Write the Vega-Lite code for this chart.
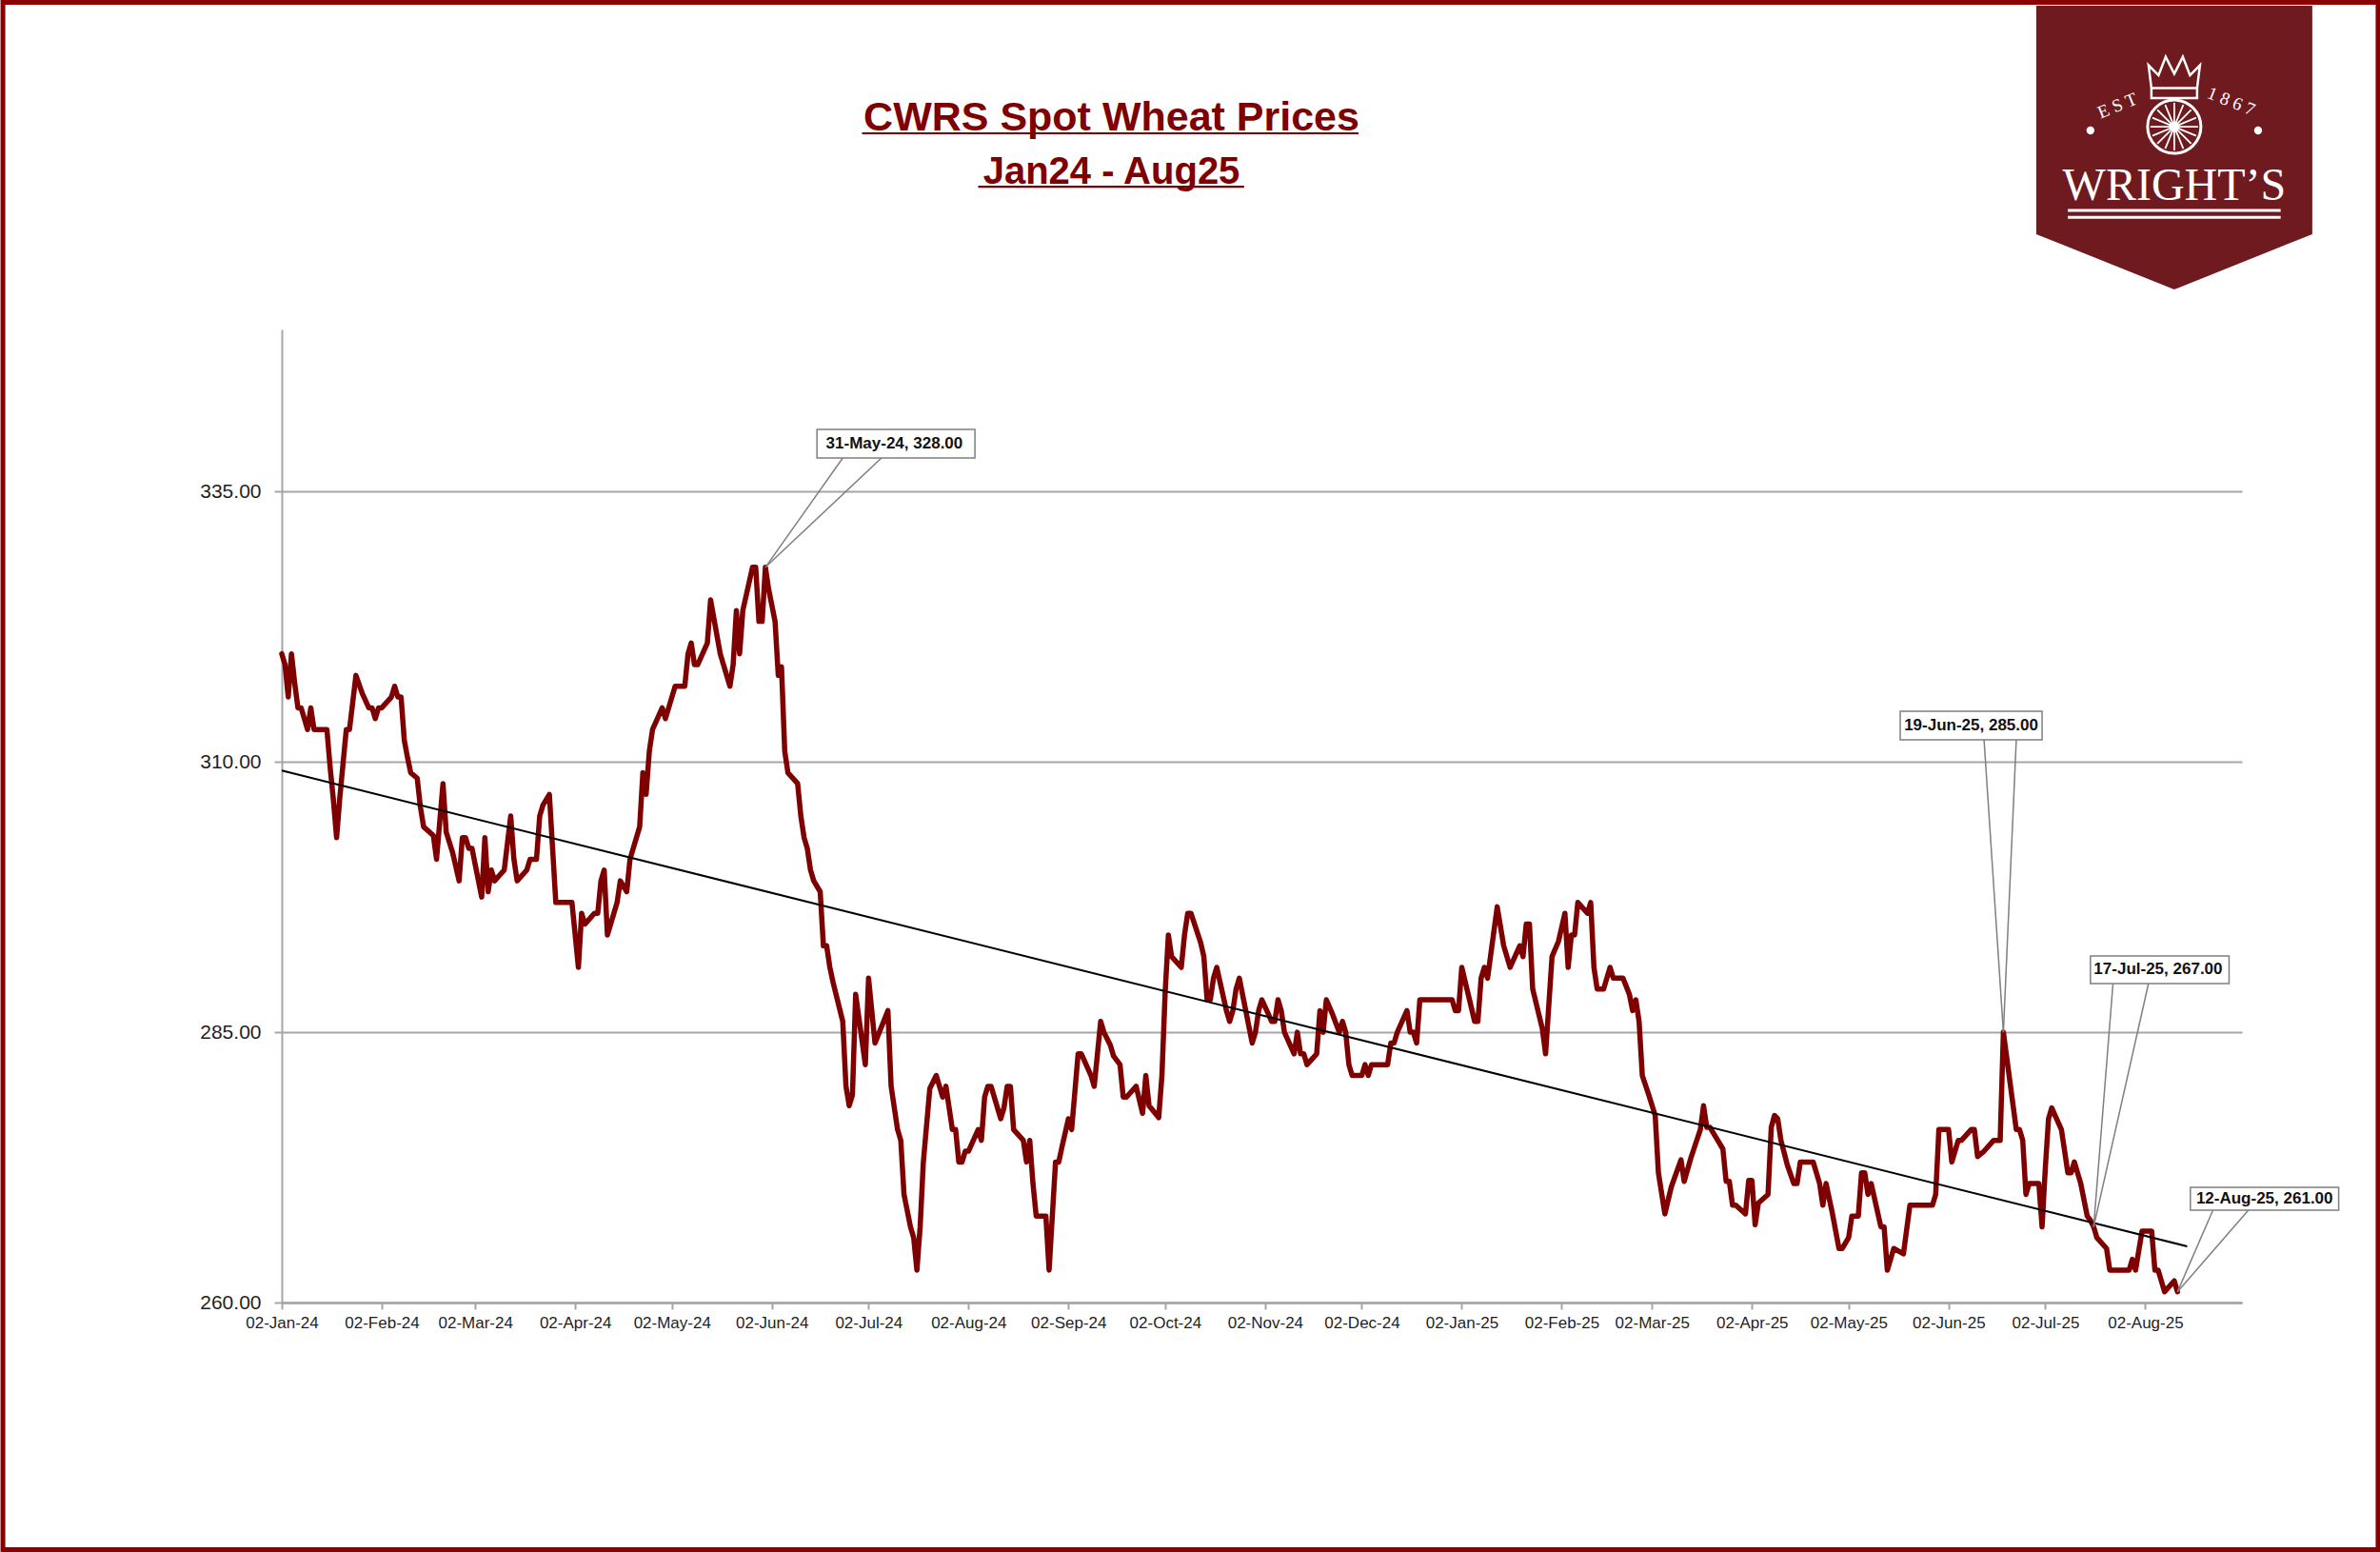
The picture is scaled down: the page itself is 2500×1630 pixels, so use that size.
{
  "$schema": "https://vega.github.io/schema/vega-lite/v6.json",
  "width": 2059,
  "height": 1022,
  "autosize": {"type": "none"},
  "padding": {"left": 296, "top": 346, "right": 145, "bottom": 262},
  "background": "white",
  "title": {
    "text": "CWRS Spot Wheat Prices",
    "subtitle": "Jan24 - Aug25",
    "anchor": "middle",
    "frame": "group",
    "dx": -158,
    "offset": -201,
    "font": "Liberation Sans",
    "fontSize": 43,
    "fontWeight": "bold",
    "color": "#7F0000",
    "subtitleFont": "Liberation Sans",
    "subtitleFontSize": 40,
    "subtitleFontWeight": "bold",
    "subtitleColor": "#7F0000",
    "subtitlePadding": 15
  },
  "config": {
    "view": {"stroke": null},
    "text": {"font": "Liberation Sans"}
  },
  "datasets": {
    "prices": [
      {"date": "2024-01-02", "price": 320}, {"date": "2024-01-03", "price": 319}, {"date": "2024-01-04", "price": 316},
      {"date": "2024-01-05", "price": 320}, {"date": "2024-01-06", "price": 317.3}, {"date": "2024-01-07", "price": 315},
      {"date": "2024-01-08", "price": 315}, {"date": "2024-01-10", "price": 313}, {"date": "2024-01-11", "price": 315},
      {"date": "2024-01-12", "price": 313}, {"date": "2024-01-16", "price": 313}, {"date": "2024-01-17", "price": 309.5},
      {"date": "2024-01-18", "price": 306.5}, {"date": "2024-01-19", "price": 303}, {"date": "2024-01-20", "price": 306.7},
      {"date": "2024-01-22", "price": 313}, {"date": "2024-01-23", "price": 313}, {"date": "2024-01-25", "price": 318},
      {"date": "2024-01-27", "price": 316.3}, {"date": "2024-01-29", "price": 315}, {"date": "2024-01-30", "price": 315},
      {"date": "2024-01-31", "price": 314}, {"date": "2024-02-01", "price": 315}, {"date": "2024-02-02", "price": 315},
      {"date": "2024-02-05", "price": 316}, {"date": "2024-02-06", "price": 317}, {"date": "2024-02-07", "price": 316},
      {"date": "2024-02-08", "price": 316}, {"date": "2024-02-09", "price": 312}, {"date": "2024-02-10", "price": 310.4},
      {"date": "2024-02-11", "price": 309}, {"date": "2024-02-13", "price": 308.5}, {"date": "2024-02-14", "price": 305.8},
      {"date": "2024-02-15", "price": 304}, {"date": "2024-02-18", "price": 303.2}, {"date": "2024-02-19", "price": 301},
      {"date": "2024-02-21", "price": 308}, {"date": "2024-02-22", "price": 303.5}, {"date": "2024-02-24", "price": 301.6},
      {"date": "2024-02-26", "price": 299}, {"date": "2024-02-27", "price": 303}, {"date": "2024-02-28", "price": 303},
      {"date": "2024-02-29", "price": 302}, {"date": "2024-03-01", "price": 302}, {"date": "2024-03-04", "price": 297.5},
      {"date": "2024-03-05", "price": 303}, {"date": "2024-03-06", "price": 298}, {"date": "2024-03-07", "price": 300},
      {"date": "2024-03-08", "price": 299}, {"date": "2024-03-11", "price": 300}, {"date": "2024-03-13", "price": 305},
      {"date": "2024-03-14", "price": 301}, {"date": "2024-03-15", "price": 299}, {"date": "2024-03-18", "price": 300},
      {"date": "2024-03-19", "price": 301}, {"date": "2024-03-21", "price": 301}, {"date": "2024-03-22", "price": 305},
      {"date": "2024-03-23", "price": 306}, {"date": "2024-03-25", "price": 307}, {"date": "2024-03-26", "price": 302},
      {"date": "2024-03-27", "price": 297}, {"date": "2024-04-01", "price": 297}, {"date": "2024-04-03", "price": 291},
      {"date": "2024-04-04", "price": 296}, {"date": "2024-04-05", "price": 295}, {"date": "2024-04-08", "price": 296},
      {"date": "2024-04-09", "price": 296}, {"date": "2024-04-10", "price": 299}, {"date": "2024-04-11", "price": 300},
      {"date": "2024-04-12", "price": 294}, {"date": "2024-04-15", "price": 297}, {"date": "2024-04-16", "price": 299},
      {"date": "2024-04-18", "price": 298}, {"date": "2024-04-19", "price": 301}, {"date": "2024-04-22", "price": 304},
      {"date": "2024-04-23", "price": 309}, {"date": "2024-04-24", "price": 307}, {"date": "2024-04-25", "price": 311},
      {"date": "2024-04-26", "price": 313}, {"date": "2024-04-29", "price": 315}, {"date": "2024-04-30", "price": 314},
      {"date": "2024-05-03", "price": 317}, {"date": "2024-05-06", "price": 317}, {"date": "2024-05-07", "price": 320},
      {"date": "2024-05-08", "price": 321}, {"date": "2024-05-09", "price": 319}, {"date": "2024-05-10", "price": 319},
      {"date": "2024-05-13", "price": 321}, {"date": "2024-05-14", "price": 325}, {"date": "2024-05-17", "price": 320},
      {"date": "2024-05-20", "price": 317}, {"date": "2024-05-21", "price": 319}, {"date": "2024-05-22", "price": 324},
      {"date": "2024-05-23", "price": 320}, {"date": "2024-05-24", "price": 324}, {"date": "2024-05-27", "price": 328},
      {"date": "2024-05-28", "price": 328}, {"date": "2024-05-29", "price": 323}, {"date": "2024-05-30", "price": 323},
      {"date": "2024-05-31", "price": 328}, {"date": "2024-06-01", "price": 326}, {"date": "2024-06-03", "price": 323},
      {"date": "2024-06-04", "price": 318}, {"date": "2024-06-05", "price": 318.8}, {"date": "2024-06-06", "price": 311},
      {"date": "2024-06-07", "price": 309}, {"date": "2024-06-10", "price": 308}, {"date": "2024-06-11", "price": 305},
      {"date": "2024-06-12", "price": 303}, {"date": "2024-06-13", "price": 302}, {"date": "2024-06-14", "price": 300},
      {"date": "2024-06-15", "price": 299}, {"date": "2024-06-17", "price": 298}, {"date": "2024-06-18", "price": 293},
      {"date": "2024-06-19", "price": 293}, {"date": "2024-06-20", "price": 291}, {"date": "2024-06-21", "price": 289.6},
      {"date": "2024-06-24", "price": 286}, {"date": "2024-06-25", "price": 280}, {"date": "2024-06-26", "price": 278.2},
      {"date": "2024-06-27", "price": 279.2}, {"date": "2024-06-28", "price": 288.5}, {"date": "2024-07-01", "price": 282},
      {"date": "2024-07-02", "price": 290}, {"date": "2024-07-04", "price": 284}, {"date": "2024-07-06", "price": 285.5},
      {"date": "2024-07-08", "price": 287}, {"date": "2024-07-09", "price": 280}, {"date": "2024-07-11", "price": 276},
      {"date": "2024-07-12", "price": 275}, {"date": "2024-07-13", "price": 270}, {"date": "2024-07-15", "price": 267},
      {"date": "2024-07-16", "price": 266}, {"date": "2024-07-17", "price": 263}, {"date": "2024-07-18", "price": 267},
      {"date": "2024-07-19", "price": 273}, {"date": "2024-07-21", "price": 279.8}, {"date": "2024-07-23", "price": 281},
      {"date": "2024-07-25", "price": 279}, {"date": "2024-07-26", "price": 280}, {"date": "2024-07-28", "price": 276},
      {"date": "2024-07-29", "price": 276}, {"date": "2024-07-30", "price": 273}, {"date": "2024-07-31", "price": 273},
      {"date": "2024-08-01", "price": 274}, {"date": "2024-08-02", "price": 274}, {"date": "2024-08-05", "price": 276},
      {"date": "2024-08-06", "price": 275}, {"date": "2024-08-07", "price": 279}, {"date": "2024-08-08", "price": 280},
      {"date": "2024-08-09", "price": 280}, {"date": "2024-08-12", "price": 277}, {"date": "2024-08-13", "price": 278},
      {"date": "2024-08-14", "price": 280}, {"date": "2024-08-15", "price": 280}, {"date": "2024-08-16", "price": 276},
      {"date": "2024-08-19", "price": 275}, {"date": "2024-08-20", "price": 273}, {"date": "2024-08-21", "price": 275},
      {"date": "2024-08-22", "price": 271}, {"date": "2024-08-23", "price": 268}, {"date": "2024-08-26", "price": 268},
      {"date": "2024-08-27", "price": 263}, {"date": "2024-08-29", "price": 273}, {"date": "2024-08-30", "price": 273},
      {"date": "2024-08-31", "price": 274.4}, {"date": "2024-09-02", "price": 277}, {"date": "2024-09-03", "price": 276},
      {"date": "2024-09-05", "price": 283}, {"date": "2024-09-06", "price": 283}, {"date": "2024-09-09", "price": 281},
      {"date": "2024-09-10", "price": 280}, {"date": "2024-09-12", "price": 286}, {"date": "2024-09-13", "price": 285},
      {"date": "2024-09-15", "price": 283.8}, {"date": "2024-09-16", "price": 282.8}, {"date": "2024-09-18", "price": 282},
      {"date": "2024-09-19", "price": 279}, {"date": "2024-09-20", "price": 279}, {"date": "2024-09-23", "price": 280},
      {"date": "2024-09-25", "price": 277.5}, {"date": "2024-09-26", "price": 281}, {"date": "2024-09-27", "price": 278.2},
      {"date": "2024-09-30", "price": 277.1}, {"date": "2024-10-01", "price": 281}, {"date": "2024-10-02", "price": 288.7},
      {"date": "2024-10-03", "price": 294}, {"date": "2024-10-04", "price": 292}, {"date": "2024-10-07", "price": 291},
      {"date": "2024-10-08", "price": 294}, {"date": "2024-10-09", "price": 296}, {"date": "2024-10-10", "price": 296},
      {"date": "2024-10-13", "price": 293.3}, {"date": "2024-10-14", "price": 292}, {"date": "2024-10-15", "price": 288},
      {"date": "2024-10-16", "price": 288}, {"date": "2024-10-17", "price": 290}, {"date": "2024-10-18", "price": 291},
      {"date": "2024-10-21", "price": 287}, {"date": "2024-10-22", "price": 286}, {"date": "2024-10-23", "price": 287},
      {"date": "2024-10-24", "price": 289}, {"date": "2024-10-25", "price": 290}, {"date": "2024-10-27", "price": 287},
      {"date": "2024-10-29", "price": 284}, {"date": "2024-10-30", "price": 285}, {"date": "2024-10-31", "price": 287},
      {"date": "2024-11-01", "price": 288}, {"date": "2024-11-03", "price": 286.7}, {"date": "2024-11-04", "price": 286},
      {"date": "2024-11-05", "price": 286}, {"date": "2024-11-06", "price": 288}, {"date": "2024-11-07", "price": 287},
      {"date": "2024-11-08", "price": 285}, {"date": "2024-11-11", "price": 283}, {"date": "2024-11-12", "price": 285},
      {"date": "2024-11-13", "price": 283}, {"date": "2024-11-14", "price": 283}, {"date": "2024-11-15", "price": 282},
      {"date": "2024-11-18", "price": 283}, {"date": "2024-11-19", "price": 287}, {"date": "2024-11-20", "price": 285},
      {"date": "2024-11-21", "price": 288}, {"date": "2024-11-23", "price": 286.6}, {"date": "2024-11-25", "price": 285},
      {"date": "2024-11-26", "price": 286}, {"date": "2024-11-27", "price": 285}, {"date": "2024-11-28", "price": 282},
      {"date": "2024-11-29", "price": 281}, {"date": "2024-12-02", "price": 281}, {"date": "2024-12-03", "price": 282},
      {"date": "2024-12-04", "price": 281}, {"date": "2024-12-05", "price": 282}, {"date": "2024-12-10", "price": 282},
      {"date": "2024-12-11", "price": 284}, {"date": "2024-12-12", "price": 284}, {"date": "2024-12-13", "price": 285},
      {"date": "2024-12-16", "price": 287}, {"date": "2024-12-17", "price": 285}, {"date": "2024-12-18", "price": 285},
      {"date": "2024-12-19", "price": 284}, {"date": "2024-12-20", "price": 288}, {"date": "2024-12-30", "price": 288},
      {"date": "2024-12-31", "price": 287}, {"date": "2025-01-01", "price": 287}, {"date": "2025-01-02", "price": 291},
      {"date": "2025-01-06", "price": 286}, {"date": "2025-01-07", "price": 286}, {"date": "2025-01-08", "price": 290},
      {"date": "2025-01-09", "price": 291}, {"date": "2025-01-10", "price": 290}, {"date": "2025-01-13", "price": 296.6},
      {"date": "2025-01-15", "price": 293}, {"date": "2025-01-17", "price": 291}, {"date": "2025-01-20", "price": 293},
      {"date": "2025-01-21", "price": 292}, {"date": "2025-01-22", "price": 295}, {"date": "2025-01-23", "price": 295},
      {"date": "2025-01-24", "price": 289}, {"date": "2025-01-27", "price": 285.3}, {"date": "2025-01-28", "price": 283},
      {"date": "2025-01-30", "price": 292}, {"date": "2025-02-01", "price": 293.4}, {"date": "2025-02-03", "price": 296},
      {"date": "2025-02-04", "price": 291}, {"date": "2025-02-05", "price": 294}, {"date": "2025-02-06", "price": 294},
      {"date": "2025-02-07", "price": 297}, {"date": "2025-02-10", "price": 296}, {"date": "2025-02-11", "price": 297},
      {"date": "2025-02-12", "price": 291}, {"date": "2025-02-13", "price": 289}, {"date": "2025-02-15", "price": 289},
      {"date": "2025-02-17", "price": 291}, {"date": "2025-02-18", "price": 290}, {"date": "2025-02-21", "price": 290},
      {"date": "2025-02-23", "price": 288.5}, {"date": "2025-02-24", "price": 287}, {"date": "2025-02-25", "price": 288},
      {"date": "2025-02-26", "price": 286}, {"date": "2025-02-27", "price": 281}, {"date": "2025-03-01", "price": 279.2},
      {"date": "2025-03-03", "price": 277.3}, {"date": "2025-03-04", "price": 272}, {"date": "2025-03-06", "price": 268.2},
      {"date": "2025-03-08", "price": 270.7}, {"date": "2025-03-11", "price": 273.2}, {"date": "2025-03-12", "price": 271.2},
      {"date": "2025-03-14", "price": 273.3}, {"date": "2025-03-15", "price": 274.2}, {"date": "2025-03-17", "price": 276},
      {"date": "2025-03-18", "price": 278.2}, {"date": "2025-03-19", "price": 276.2}, {"date": "2025-03-20", "price": 276.2},
      {"date": "2025-03-22", "price": 275.2}, {"date": "2025-03-24", "price": 274.2}, {"date": "2025-03-25", "price": 271.2},
      {"date": "2025-03-26", "price": 271.2}, {"date": "2025-03-27", "price": 269}, {"date": "2025-03-28", "price": 269},
      {"date": "2025-03-31", "price": 268.2}, {"date": "2025-04-01", "price": 271.3}, {"date": "2025-04-02", "price": 271.3},
      {"date": "2025-04-03", "price": 267.2}, {"date": "2025-04-04", "price": 269.2}, {"date": "2025-04-07", "price": 270},
      {"date": "2025-04-08", "price": 276.2}, {"date": "2025-04-09", "price": 277.3}, {"date": "2025-04-10", "price": 277},
      {"date": "2025-04-11", "price": 275}, {"date": "2025-04-13", "price": 272.7}, {"date": "2025-04-15", "price": 271},
      {"date": "2025-04-16", "price": 271}, {"date": "2025-04-17", "price": 273}, {"date": "2025-04-21", "price": 273},
      {"date": "2025-04-23", "price": 271}, {"date": "2025-04-24", "price": 269}, {"date": "2025-04-25", "price": 271},
      {"date": "2025-04-27", "price": 268.2}, {"date": "2025-04-29", "price": 265}, {"date": "2025-04-30", "price": 265},
      {"date": "2025-05-02", "price": 266}, {"date": "2025-05-03", "price": 268}, {"date": "2025-05-05", "price": 268},
      {"date": "2025-05-06", "price": 272}, {"date": "2025-05-07", "price": 272}, {"date": "2025-05-08", "price": 270},
      {"date": "2025-05-09", "price": 271}, {"date": "2025-05-12", "price": 267}, {"date": "2025-05-13", "price": 267},
      {"date": "2025-05-14", "price": 263}, {"date": "2025-05-16", "price": 265}, {"date": "2025-05-19", "price": 264.5},
      {"date": "2025-05-21", "price": 269}, {"date": "2025-05-28", "price": 269}, {"date": "2025-05-29", "price": 270},
      {"date": "2025-05-30", "price": 276}, {"date": "2025-06-02", "price": 276}, {"date": "2025-06-03", "price": 273},
      {"date": "2025-06-05", "price": 275}, {"date": "2025-06-06", "price": 275}, {"date": "2025-06-09", "price": 276},
      {"date": "2025-06-10", "price": 276}, {"date": "2025-06-11", "price": 273.5}, {"date": "2025-06-13", "price": 274},
      {"date": "2025-06-16", "price": 275}, {"date": "2025-06-18", "price": 275}, {"date": "2025-06-19", "price": 285},
      {"date": "2025-06-23", "price": 276}, {"date": "2025-06-24", "price": 276}, {"date": "2025-06-25", "price": 275},
      {"date": "2025-06-26", "price": 270}, {"date": "2025-06-27", "price": 271}, {"date": "2025-06-30", "price": 271},
      {"date": "2025-07-01", "price": 267}, {"date": "2025-07-02", "price": 272.4}, {"date": "2025-07-03", "price": 277},
      {"date": "2025-07-04", "price": 278}, {"date": "2025-07-07", "price": 276}, {"date": "2025-07-09", "price": 272},
      {"date": "2025-07-10", "price": 272}, {"date": "2025-07-11", "price": 273}, {"date": "2025-07-13", "price": 271},
      {"date": "2025-07-15", "price": 268}, {"date": "2025-07-16", "price": 267.6}, {"date": "2025-07-17", "price": 267},
      {"date": "2025-07-18", "price": 266}, {"date": "2025-07-21", "price": 265}, {"date": "2025-07-22", "price": 263},
      {"date": "2025-07-28", "price": 263}, {"date": "2025-07-29", "price": 264}, {"date": "2025-07-30", "price": 263},
      {"date": "2025-08-01", "price": 266.6}, {"date": "2025-08-04", "price": 266.6}, {"date": "2025-08-05", "price": 263},
      {"date": "2025-08-06", "price": 263}, {"date": "2025-08-08", "price": 261}, {"date": "2025-08-11", "price": 262},
      {"date": "2025-08-12", "price": 261}
    ],
    "trend": [
      {"date": "2024-01-02", "price": 309.2},
      {"date": "2025-08-15", "price": 265.2}
    ],
    "leaders": [
      {"date": "2024-06-24", "price": 338.11, "date2": "2024-05-31", "price2": 328},
      {"date": "2024-07-06", "price": 338.11, "date2": "2024-05-31", "price2": 328},
      {"date": "2025-06-13", "price": 312.04, "date2": "2025-06-19", "price2": 285},
      {"date": "2025-06-23", "price": 312.04, "date2": "2025-06-19", "price2": 285},
      {"date": "2025-07-23", "price": 289.5, "date2": "2025-07-17", "price2": 267},
      {"date": "2025-08-03", "price": 289.5, "date2": "2025-07-17", "price2": 267},
      {"date": "2025-08-23", "price": 268.54, "date2": "2025-08-12", "price2": 261},
      {"date": "2025-09-03", "price": 268.54, "date2": "2025-08-12", "price2": 261}
    ],
    "callouts": [
      {"label": "31-May-24, 328.00", "date": "2024-06-16", "date2": "2024-08-04", "price": 338.11, "price2": 340.75, "mid": "2024-07-10", "level": 339.43},
      {"label": "19-Jun-25, 285.00", "date": "2025-05-18", "date2": "2025-07-01", "price": 312.04, "price2": 314.68, "mid": "2025-06-09", "level": 313.36},
      {"label": "17-Jul-25, 267.00", "date": "2025-07-16", "date2": "2025-08-28", "price": 289.5, "price2": 292.05, "mid": "2025-08-06", "level": 290.78},
      {"label": "12-Aug-25, 261.00", "date": "2025-08-16", "date2": "2025-10-01", "price": 268.54, "price2": 270.66, "mid": "2025-09-08", "level": 269.6}
    ],
    "underlines": [
      {"date": "2024-06-30", "date2": "2024-12-01", "price": 368.14},
      {"date": "2024-08-05", "date2": "2024-10-26T12:00:00Z", "price": 363.2}
    ],
    "frame": [
      {"date": "2023-10-07T12:00:00Z", "date2": "2025-10-13T05:00:00Z", "price": 237.15, "price2": 380.24}
    ],
    "badge": [
      {"date": "2025-08-11", "price": 366.82}
    ],
    "crown": [
      {"date": "2025-08-11", "price": 373.77}
    ],
    "wheel": [
      {"date": "2025-08-11", "price": 368.75}
    ],
    "dots": [
      {"date": "2025-07-16", "price": 368.4},
      {"date": "2025-09-06", "price": 368.4}
    ],
    "badgetext": [
      {"label": "E S T", "date": "2025-07-25", "price": 370.2, "tilt": -22, "size": 19},
      {"label": "1 8 6 7", "date": "2025-08-28", "price": 370.6, "tilt": 22, "size": 19},
      {"label": "WRIGHT’S", "date": "2025-08-11", "price": 361.97, "tilt": 0, "size": 48}
    ],
    "badgelines": [
      {"date": "2025-07-09", "date2": "2025-09-13", "price": 361.0},
      {"date": "2025-07-09", "date2": "2025-09-13", "price": 360.38}
    ]
  },
  "layer": [
    {
      "data": {"name": "prices"},
      "mark": {"type": "line", "color": "#7F0000", "strokeWidth": 5.5, "strokeJoin": "round", "strokeCap": "round"},
      "encoding": {
        "x": {
          "field": "date", "type": "temporal", "title": null,
          "scale": {"type": "utc", "domain": [{"year": 2024, "month": 1, "date": 2, "utc": true}, {"year": 2025, "month": 9, "date": 1, "utc": true}]},
          "axis": {
            "values": [
              {"year": 2024, "month": 1, "date": 2, "utc": true}, {"year": 2024, "month": 2, "date": 2, "utc": true},
              {"year": 2024, "month": 3, "date": 2, "utc": true}, {"year": 2024, "month": 4, "date": 2, "utc": true},
              {"year": 2024, "month": 5, "date": 2, "utc": true}, {"year": 2024, "month": 6, "date": 2, "utc": true},
              {"year": 2024, "month": 7, "date": 2, "utc": true}, {"year": 2024, "month": 8, "date": 2, "utc": true},
              {"year": 2024, "month": 9, "date": 2, "utc": true}, {"year": 2024, "month": 10, "date": 2, "utc": true},
              {"year": 2024, "month": 11, "date": 2, "utc": true}, {"year": 2024, "month": 12, "date": 2, "utc": true},
              {"year": 2025, "month": 1, "date": 2, "utc": true}, {"year": 2025, "month": 2, "date": 2, "utc": true},
              {"year": 2025, "month": 3, "date": 2, "utc": true}, {"year": 2025, "month": 4, "date": 2, "utc": true},
              {"year": 2025, "month": 5, "date": 2, "utc": true}, {"year": 2025, "month": 6, "date": 2, "utc": true},
              {"year": 2025, "month": 7, "date": 2, "utc": true}, {"year": 2025, "month": 8, "date": 2, "utc": true}
            ],
            "format": "%d-%b-%y",
            "grid": false,
            "domainColor": "#A6A6A6", "domainWidth": 2.5,
            "tickColor": "#A6A6A6", "tickWidth": 2, "tickSize": 7,
            "labelPadding": 6, "labelFontSize": 17, "labelColor": "#1F1F1F", "labelFont": "Liberation Sans",
            "labelAngle": 0, "labelOverlap": false, "labelFlush": false
          }
        },
        "y": {
          "field": "price", "type": "quantitative", "title": null,
          "scale": {"domain": [260, 350], "nice": false, "zero": false},
          "axis": {
            "values": [260, 285, 310, 335],
            "format": ".2f",
            "grid": true, "gridColor": "#A6A6A6", "gridWidth": 2,
            "domainColor": "#A6A6A6", "domainWidth": 2,
            "tickColor": "#A6A6A6", "tickWidth": 2, "tickSize": 8,
            "labelPadding": 14, "labelFontSize": 21, "labelColor": "#1F1F1F", "labelFont": "Liberation Sans"
          }
        }
      }
    },
    {
      "data": {"name": "trend"},
      "mark": {"type": "line", "color": "#000000", "strokeWidth": 2},
      "encoding": {
        "x": {"field": "date", "type": "temporal", "title": null},
        "y": {"field": "price", "type": "quantitative", "title": null}
      }
    },
    {
      "data": {"name": "leaders"},
      "mark": {"type": "rule", "color": "#7F7F7F", "strokeWidth": 1.5},
      "encoding": {
        "x": {"field": "date", "type": "temporal", "title": null},
        "y": {"field": "price", "type": "quantitative", "title": null},
        "x2": {"field": "date2"},
        "y2": {"field": "price2"}
      }
    },
    {
      "data": {"name": "callouts"},
      "mark": {"type": "rect", "fill": "#FFFFFF", "stroke": "#7F7F7F", "strokeWidth": 1.5},
      "encoding": {
        "x": {"field": "date", "type": "temporal", "title": null},
        "x2": {"field": "date2"},
        "y": {"field": "price", "type": "quantitative", "title": null},
        "y2": {"field": "price2"}
      }
    },
    {
      "data": {"name": "callouts"},
      "mark": {"type": "text", "font": "Liberation Sans", "fontSize": 17, "fontWeight": "bold", "color": "#111111", "align": "center", "baseline": "middle"},
      "encoding": {
        "x": {"field": "mid", "type": "temporal", "title": null},
        "y": {"field": "level", "type": "quantitative", "title": null},
        "text": {"field": "label"}
      }
    },
    {
      "data": {"name": "underlines"},
      "mark": {"type": "rule", "color": "#7F0000", "strokeWidth": 2.2},
      "encoding": {
        "x": {"field": "date", "type": "temporal", "title": null},
        "x2": {"field": "date2"},
        "y": {"field": "price", "type": "quantitative", "title": null}
      }
    },
    {
      "data": {"name": "badge"},
      "mark": {"type": "point", "shape": "M -0.973 -1 L 0.973 -1 L 0.973 0.61 L 0 1 L -0.973 0.61 Z", "size": 88804, "filled": true, "fill": "#6E1A1F", "opacity": 1, "strokeWidth": 0},
      "encoding": {
        "x": {"field": "date", "type": "temporal", "title": null},
        "y": {"field": "price", "type": "quantitative", "title": null}
      }
    },
    {
      "data": {"name": "crown"},
      "mark": {"type": "point", "shape": "M -0.8 0.55 L -0.9 -0.25 L -0.55 0.1 L -0.3 -0.55 L 0 0.05 L 0.3 -0.55 L 0.55 0.1 L 0.9 -0.25 L 0.8 0.55 Z M -0.8 0.55 L 0.8 0.55 L 0.8 0.9 L -0.8 0.9 Z", "size": 3600, "filled": false, "stroke": "#FFFFFF", "strokeWidth": 2.5, "opacity": 1},
      "encoding": {
        "x": {"field": "date", "type": "temporal", "title": null},
        "y": {"field": "price", "type": "quantitative", "title": null}
      }
    },
    {
      "data": {"name": "wheel"},
      "mark": {"type": "point", "shape": "circle", "size": 3136, "filled": false, "stroke": "#FFFFFF", "strokeWidth": 3, "opacity": 1},
      "encoding": {
        "x": {"field": "date", "type": "temporal", "title": null},
        "y": {"field": "price", "type": "quantitative", "title": null}
      }
    },
    {
      "data": {"name": "wheel"},
      "mark": {"type": "point", "shape": "M -1 0 L 1 0 M 0 -1 L 0 1 M -0.71 -0.71 L 0.71 0.71 M -0.71 0.71 L 0.71 -0.71 M -0.92 -0.38 L 0.92 0.38 M -0.38 -0.92 L 0.38 0.92 M -0.92 0.38 L 0.92 -0.38 M -0.38 0.92 L 0.38 -0.92", "size": 2500, "filled": false, "stroke": "#FFFFFF", "strokeWidth": 1.8, "opacity": 1},
      "encoding": {
        "x": {"field": "date", "type": "temporal", "title": null},
        "y": {"field": "price", "type": "quantitative", "title": null}
      }
    },
    {
      "data": {"name": "dots"},
      "mark": {"type": "point", "shape": "circle", "size": 70, "filled": true, "fill": "#FFFFFF", "opacity": 1},
      "encoding": {
        "x": {"field": "date", "type": "temporal", "title": null},
        "y": {"field": "price", "type": "quantitative", "title": null}
      }
    },
    {
      "data": {"name": "wheel"},
      "mark": {"type": "point", "shape": "circle", "size": 110, "filled": true, "fill": "#FFFFFF", "opacity": 1},
      "encoding": {
        "x": {"field": "date", "type": "temporal", "title": null},
        "y": {"field": "price", "type": "quantitative", "title": null}
      }
    },
    {
      "data": {"name": "badgetext"},
      "mark": {"type": "text", "font": "Liberation Serif", "color": "#FFFFFF", "align": "center", "baseline": "alphabetic"},
      "encoding": {
        "x": {"field": "date", "type": "temporal", "title": null},
        "y": {"field": "price", "type": "quantitative", "title": null},
        "text": {"field": "label"},
        "angle": {"field": "tilt", "type": "quantitative", "scale": null},
        "size": {"field": "size", "type": "quantitative", "scale": null}
      }
    },
    {
      "data": {"name": "badgelines"},
      "mark": {"type": "rule", "color": "#FFFFFF", "strokeWidth": 3},
      "encoding": {
        "x": {"field": "date", "type": "temporal", "title": null},
        "x2": {"field": "date2"},
        "y": {"field": "price", "type": "quantitative", "title": null}
      }
    },
    {
      "data": {"name": "frame"},
      "mark": {"type": "rect", "filled": false, "fill": null, "stroke": "#8B0000", "strokeWidth": 5},
      "encoding": {
        "x": {"field": "date", "type": "temporal", "title": null},
        "x2": {"field": "date2"},
        "y": {"field": "price", "type": "quantitative", "title": null},
        "y2": {"field": "price2"}
      }
    }
  ]
}
